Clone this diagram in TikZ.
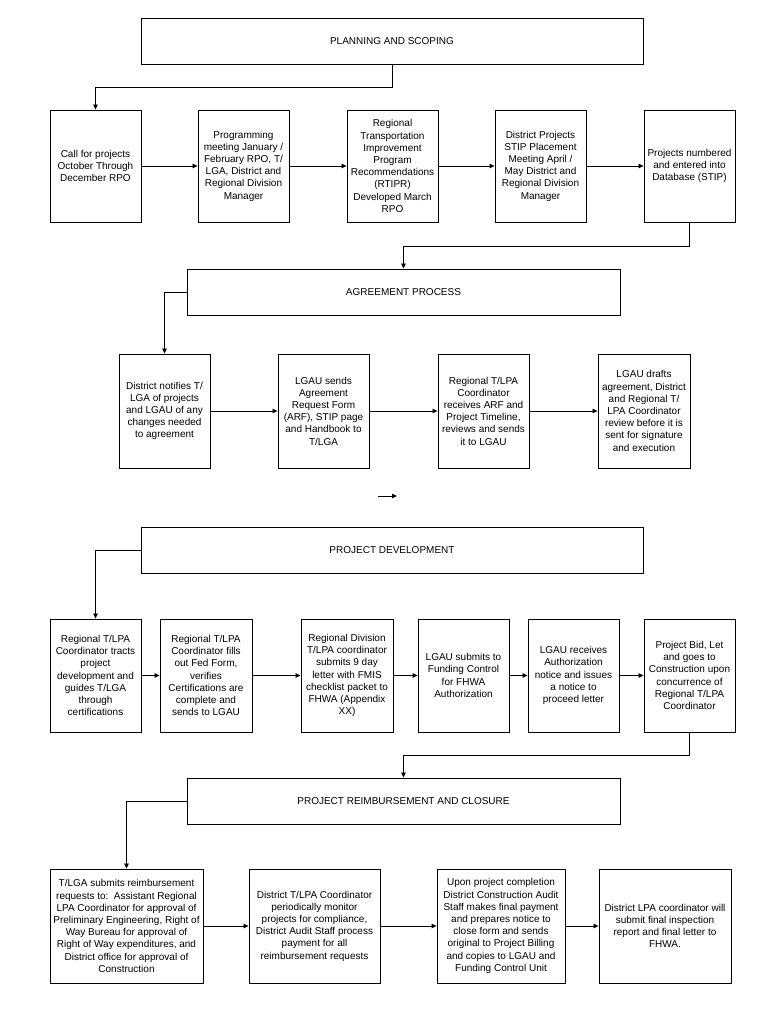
\documentclass[tikz,border=0pt]{standalone}
\usepackage{fontspec}
\setmainfont{Liberation Sans}
\usetikzlibrary{arrows.meta}
\tikzset{
  box/.style={draw, line width=0.9pt, rectangle, inner sep=0pt, align=center,
    font=\fontsize{10}{12.2}\selectfont},
  hdr/.style={box, minimum width=#1, minimum height=46},
  stepbox/.style={box, minimum width=#1},
  arr/.style={line width=0.8pt, -{Triangle[length=5pt,width=4.5pt]}},
}
\begin{document}
\begin{tikzpicture}[x=1pt,y=-1pt]
\useasboundingbox (0,0) rectangle (770,1010);
% headers
\node[hdr=502] (plan) at (392,41) {PLANNING AND SCOPING};
\node[hdr=433] (agree) at (403.5,292) {AGREEMENT PROCESS};
\node[hdr=502] (pd) at (392,550) {PROJECT DEVELOPMENT};
\node[hdr=433] (reimb) at (403.5,801) {PROJECT REIMBURSEMENT AND CLOSURE};
% row 1
\begin{scope}[every node/.append style={minimum height=112}]
\node[stepbox=91] (b11) at (95.5,166) {Call for projects\\October Through\\December RPO};
\node[stepbox=91] (b12) at (243.5,166) {Programming\\meeting January /\\February RPO, T/\\LGA, District and\\Regional Division\\Manager};
\node[stepbox=91] (b13) at (392.5,166) {Regional\\Transportation\\Improvement\\Program\\Recommendations\\(RTIPR)\\Developed March\\RPO};
\node[stepbox=91] (b14) at (540.5,166) {District Projects\\STIP Placement\\Meeting April /\\May District and\\Regional Division\\Manager};
\node[stepbox=91] (b15) at (689.5,166) {Projects numbered\\and entered into\\Database (STIP)};
\end{scope}
% row 2
\begin{scope}[every node/.append style={minimum height=114}]
\node[stepbox=91] (b21) at (164.5,411) {District notifies T/\\LGA of projects\\and LGAU of any\\changes needed\\to agreement};
\node[stepbox=91] (b22) at (323.5,411) {LGAU sends\\Agreement\\Request Form\\(ARF), STIP page\\and Handbook to\\T/LGA};
\node[stepbox=91] (b23) at (483.5,411) {Regional T/LPA\\Coordinator\\receives ARF and\\Project Timeline,\\reviews and sends\\it to LGAU};
\node[stepbox=92] (b24) at (644,411) {LGAU drafts\\agreement, District\\and Regional T/\\LPA Coordinator\\review before it is\\sent for signature\\and execution};
\end{scope}
% row 3
\begin{scope}[every node/.append style={minimum height=113}]
\node[stepbox=91] (b31) at (95.5,675.5) {Regional T/LPA\\Coordinator tracts\\project\\development and\\guides T/LGA\\through\\certifications};
\node[stepbox=92] (b32) at (206,675.5) {Regional T/LPA\\Coordinator fills\\out Fed Form,\\verifies\\Certifications are\\complete and\\sends to LGAU};
\node[stepbox=92] (b33) at (347,675.5) {Regional Division\\T/LPA coordinator\\submits 9 day\\letter with FMIS\\checklist packet to\\FHWA (Appendix\\XX)};
\node[stepbox=91] (b34) at (463.5,675.5) {LGAU submits to\\Funding Control\\for FHWA\\Authorization};
\node[stepbox=91] (b35) at (573.5,675.5) {LGAU receives\\Authorization\\notice and issues\\a notice to\\proceed letter};
\node[stepbox=91] (b36) at (689.5,675.5) {Project Bid, Let\\and goes to\\Construction upon\\concurrence of\\Regional T/LPA\\Coordinator};
\end{scope}
% row 4
\begin{scope}[every node/.append style={minimum height=114}]
\node[stepbox=153] (b41) at (126.5,926) {T/LGA submits reimbursement\\requests to:\ \ Assistant Regional\\LPA Coordinator for approval of\\Preliminary Engineering, Right of\\Way Bureau for approval of\\Right of Way expenditures, and\\District office for approval of\\Construction};
\node[stepbox=131] (b42) at (314.5,926) {District T/LPA Coordinator\\periodically monitor\\projects for compliance,\\District Audit Staff process\\payment for all\\reimbursement requests};
\node[stepbox=128] (b43) at (501,926) {Upon project completion\\District Construction Audit\\Staff makes final payment\\and prepares notice to\\close form and sends\\original to Project Billing\\and copies to LGAU and\\Funding Control Unit};
\node[stepbox=132] (b44) at (665,926) {District LPA coordinator will\\submit final inspection\\report and final letter to\\FHWA.};
\end{scope}
% connectors between sections
\draw[arr] (plan.south) -- ++(0,23) -| (b11.north);
\draw[arr] (b15.south) -- ++(0,23.5) -| (agree.north);
\draw[arr] (agree.west) -| (b21.north);
\draw[arr] (pd.west) -| (b31.north);
\draw[arr] (b36.south) -- ++(0,23) -| (reimb.north);
\draw[arr] (reimb.west) -| (b41.north);
% row arrows
\draw[arr] (b11) -- (b12);
\draw[arr] (b12) -- (b13);
\draw[arr] (b13) -- (b14);
\draw[arr] (b14) -- (b15);
\draw[arr] (b21) -- (b22);
\draw[arr] (b22) -- (b23);
\draw[arr] (b23) -- (b24);
\draw[arr] (b31) -- (b32);
\draw[arr] (b32) -- (b33);
\draw[arr] (b33) -- (b34);
\draw[arr] (b34) -- (b35);
\draw[arr] (b35) -- (b36);
\draw[arr] (b41) -- (b42);
\draw[arr] (b42) -- (b43);
\draw[arr] (b43) -- (b44);
% stray arrow
\coordinate (s1) at (378,496);
\coordinate (s2) at (397,496);
\draw[arr] (s1) -- (s2);
\end{tikzpicture}
\end{document}
